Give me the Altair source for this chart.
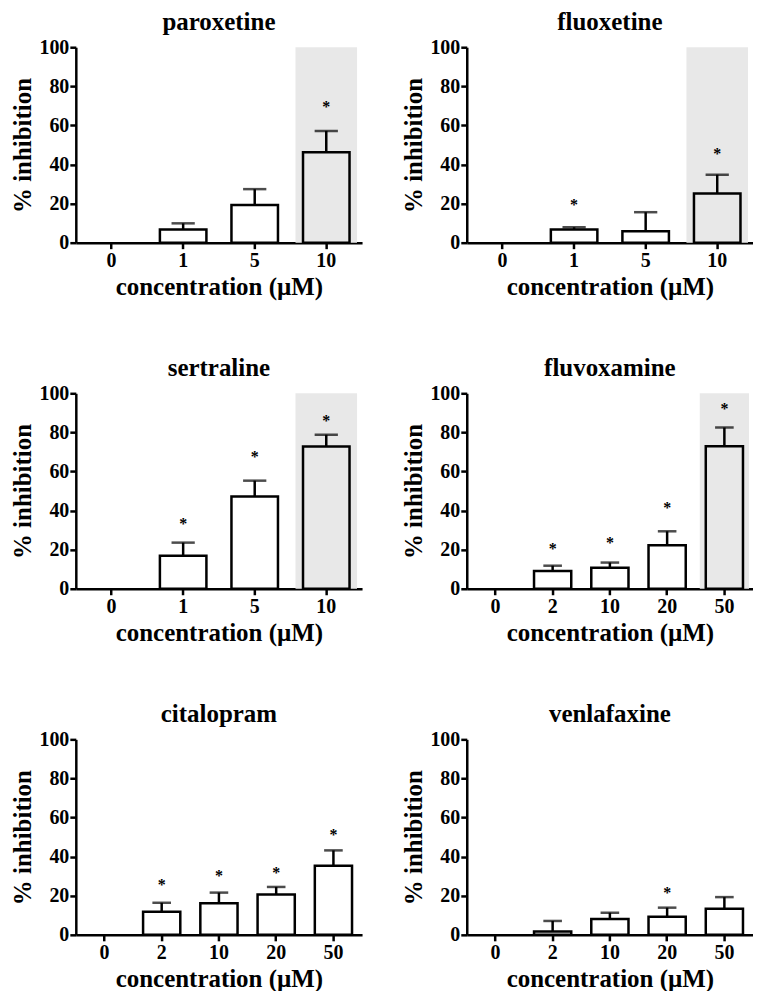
import altair as alt
import pandas as pd

FONT = "Liberation Serif"

# ---------------- data ----------------
drugs = ["paroxetine", "fluoxetine", "sertraline", "fluvoxamine", "citalopram", "venlafaxine"]

conc_a = ["0", "1", "5", "10"]
conc_b = ["0", "2", "10", "20", "50"]

paroxetine_mean = [0, 6.7, 19.3, 46.3]
paroxetine_upper = [0, 9.9, 27.4, 57.2]
paroxetine_star = [None, None, None, 70.2]

fluoxetine_mean = [0, 6.7, 5.9, 25.2]
fluoxetine_upper = [0, 7.9, 15.6, 34.8]
fluoxetine_star = [None, 20.5, None, 46.2]

sertraline_mean = [0, 16.9, 47.2, 72.8]
sertraline_upper = [0, 23.6, 55.3, 78.8]
sertraline_star = [None, 34.2, 68.6, 86.8]

fluvoxamine_mean = [0, 9.1, 10.8, 22.2, 72.9]
fluvoxamine_upper = [0, 11.8, 13.4, 29.4, 82.5]
fluvoxamine_star = [None, 21.3, 24.4, 42.4, 93.1]

citalopram_mean = [0, 11.8, 16.2, 20.6, 35.3]
citalopram_upper = [0, 16.4, 21.6, 24.5, 43.2]
citalopram_star = [None, 26.7, 31.1, 32.4, 52.0]

venlafaxine_mean = [0, 1.7, 8.1, 9.3, 13.3]
venlafaxine_upper = [0, 7.1, 11.3, 13.9, 19.3]
venlafaxine_star = [None, None, None, 22.6, None]

shaded_conc = {"paroxetine": "10", "fluoxetine": "10", "sertraline": "10", "fluvoxamine": "50"}

y_ticks = [0, 20, 40, 60, 80, 100]

panels = {
    "paroxetine": (conc_a, paroxetine_mean, paroxetine_upper, paroxetine_star),
    "fluoxetine": (conc_a, fluoxetine_mean, fluoxetine_upper, fluoxetine_star),
    "sertraline": (conc_a, sertraline_mean, sertraline_upper, sertraline_star),
    "fluvoxamine": (conc_b, fluvoxamine_mean, fluvoxamine_upper, fluvoxamine_star),
    "citalopram": (conc_b, citalopram_mean, citalopram_upper, citalopram_star),
    "venlafaxine": (conc_b, venlafaxine_mean, venlafaxine_upper, venlafaxine_star),
}

W = 287
H = 196
LW = 2.5


def panel(name):
    cats, means, uppers, stars = panels[name]
    df = pd.DataFrame({"conc": cats, "mean": means, "upper": uppers, "star": stars})
    df_bar = df[df["mean"] > 0]
    df_star = df.dropna(subset=["star"])
    step = W / len(cats)
    cap = step * 0.65 * 0.5

    x = alt.X(
        "conc:N",
        sort=cats,
        scale=alt.Scale(domain=cats, paddingInner=0, paddingOuter=0),
        axis=alt.Axis(
            title="concentration (µM)",
            labelAngle=0,
            labelFont=FONT, labelFontSize=20, labelFontWeight="bold", labelColor="black",
            titleFont=FONT, titleFontSize=25, titleFontWeight="bold", titleColor="black",
            domainColor="black", domainWidth=LW, tickColor="black", tickWidth=LW,
            tickSize=6, labelPadding=2, titlePadding=4, grid=False,
        ),
    )
    yscale = alt.Scale(domain=[0, 100], nice=False, zero=True)
    yaxis = alt.Axis(
        title="% inhibition", values=y_ticks,
        labelFont=FONT, labelFontSize=20, labelFontWeight="bold", labelColor="black",
        titleFont=FONT, titleFontSize=25, titleFontWeight="bold", titleColor="black",
        domainColor="black", domainWidth=LW, tickColor="black", tickWidth=LW,
        tickSize=6, labelPadding=1, titlePadding=3, grid=False,
    )

    base = alt.Chart(df_bar)
    bars = base.mark_bar(
        fill="white", fillOpacity=0, stroke="black", strokeWidth=LW,
        width=alt.RelativeBandSize(0.65),
    ).encode(x=x, y=alt.Y("mean:Q", scale=yscale, axis=yaxis))
    err = base.mark_rule(color="black", strokeWidth=LW).encode(
        x=x, y=alt.Y("mean:Q", scale=yscale, axis=yaxis), y2="upper:Q"
    )
    caps = base.mark_tick(color="black", thickness=LW, size=cap).encode(
        x=x, y=alt.Y("upper:Q", scale=yscale, axis=yaxis)
    )
    layers = []
    if name in shaded_conc:
        sdf = pd.DataFrame({"conc": [shaded_conc[name]], "top": [100], "bottom": [0]})
        shade = alt.Chart(sdf).mark_bar(
            fill="#e8e8e8", width=alt.RelativeBandSize(0.86)
        ).encode(x=x, y=alt.Y("top:Q", scale=yscale, axis=yaxis), y2="bottom:Q")
        layers.append(shade)
    layers += [bars, err, caps]
    if len(df_star):
        star = alt.Chart(df_star).mark_text(
            text="*", font=FONT, fontSize=16, fontWeight="bold", color="black",
            baseline="alphabetic", dy=7,
        ).encode(x=x, y=alt.Y("star:Q", scale=yscale, axis=yaxis))
        layers.append(star)

    return alt.layer(*layers).properties(
        width=W, height=H,
        title=alt.TitleParams(
            text=name, font=FONT, fontSize=25, fontWeight="bold", color="black",
            anchor="middle", offset=2,
        ),
    )


rows = []
for i in range(0, 6, 2):
    rows.append(alt.hconcat(panel(drugs[i]), panel(drugs[i + 1]), spacing=40))

chart = alt.vconcat(*rows, spacing=57).properties(
    padding={"left": 3, "top": 1, "right": 0, "bottom": 0}
).configure_view(stroke=None)

chart.save("out.html", embed_options={"renderer": "svg", "actions": False})
